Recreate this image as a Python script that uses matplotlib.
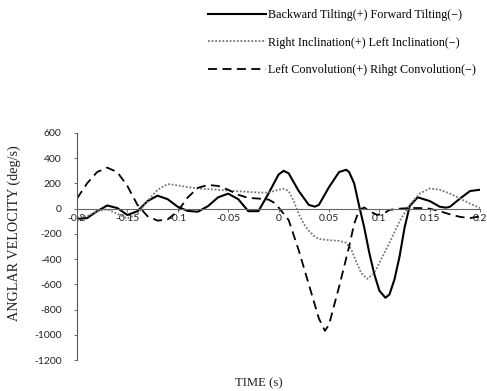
import matplotlib
matplotlib.use("Agg")
import matplotlib.pyplot as plt

# values (time in s, angular velocity in deg/s)
t_back = [-0.20, -0.19, -0.18, -0.17, -0.16, -0.15, -0.14, -0.13, -0.12, -0.11,
          -0.10, -0.09, -0.08, -0.07, -0.06, -0.05, -0.04, -0.03, -0.02, -0.01,
          0.00, 0.005, 0.01, 0.02, 0.03, 0.036, 0.04, 0.05, 0.06, 0.067,
          0.07, 0.075, 0.08, 0.085, 0.09, 0.095, 0.10, 0.106, 0.11, 0.115,
          0.12, 0.125, 0.13, 0.138, 0.15, 0.16, 0.166, 0.17, 0.18, 0.19, 0.20]
v_back = [-80, -75, -20, 25, 5, -50, -20, 60, 103, 75,
          15, -18, -24, 20, 90, 119, 75, -20, -20, 120,
          270, 300, 280, 140, 30, 16, 30, 170, 290, 308,
          290, 200, 20, -150, -350, -520, -650, -706, -680, -560,
          -380, -150, 20, 90, 60, 15, 8, 15, 80, 140, 150]

t_right = [-0.20, -0.19, -0.18, -0.17, -0.16, -0.15, -0.14, -0.13, -0.12, -0.11,
           -0.10, -0.09, -0.08, -0.07, -0.06, -0.05, -0.04, -0.03, -0.02, -0.01,
           0.00, 0.005, 0.01, 0.015, 0.02, 0.025, 0.03, 0.035, 0.04, 0.05,
           0.06, 0.067, 0.072, 0.077, 0.082, 0.088, 0.095, 0.10, 0.11, 0.12,
           0.13, 0.14, 0.15, 0.16, 0.17, 0.18, 0.19, 0.20]
v_right = [-70, -60, -20, -5, -40, -78, -40, 60, 150, 195,
           185, 170, 160, 155, 150, 143, 138, 133, 128, 127,
           150, 158, 140, 60, -40, -120, -175, -215, -240, -250,
           -255, -270, -320, -420, -510, -556, -510, -430, -270, -100,
           30, 120, 160, 150, 120, 80, 40, 5]

t_left = [-0.20, -0.19, -0.18, -0.17, -0.16, -0.15, -0.14, -0.13, -0.12, -0.11,
          -0.10, -0.09, -0.08, -0.07, -0.06, -0.05, -0.04, -0.03, -0.02, -0.01,
          -0.005, 0.00, 0.005, 0.01, 0.02, 0.03, 0.04, 0.046, 0.05, 0.06,
          0.07, 0.075, 0.08, 0.085, 0.09, 0.098, 0.105, 0.11, 0.12, 0.13,
          0.14, 0.15, 0.16, 0.17, 0.18, 0.19, 0.20]
v_left = [80, 200, 290, 325, 290, 180, 30, -60, -95, -85,
          -20, 90, 165, 188, 180, 150, 110, 85, 80, 72,
          50, 10, -40, -90, -330, -600, -870, -968, -920, -620,
          -300, -120, -10, 10, -20, -50, -35, -10, 0, 5,
          5, 0, -20, -45, -65, -75, -60]

labels = ["Backward Tilting(+) Forward Tilting(\u2212)",
          "Right Inclination(+) Left Inclination(\u2212)",
          "Left Convolution(+) Rihgt Convolution(\u2212)"]
x_ticks = [-0.2, -0.15, -0.1, -0.05, 0, 0.05, 0.1, 0.15, 0.2]
x_ticklabels = ["-0.2", "-0.15", "-0.1", "-0.05", "0", "0.05", "0.1", "0.15", "0.2"]
y_ticks = [600, 400, 200, 0, -200, -400, -600, -800, -1000, -1200]

fig = plt.figure(figsize=(4.87, 3.91), dpi=100)
ax = fig.add_axes([0.158, 0.079, 0.828, 0.581])

l1, = ax.plot(t_back, v_back, color="black", lw=1.5, ls="-")
l2, = ax.plot(t_right, v_right, color="#777777", lw=1.3, ls=(0, (1, 1)))
l3, = ax.plot(t_left, v_left, color="black", lw=1.3, ls=(0, (5, 3)))

ax.set_xlim(-0.2, 0.2)
ax.set_ylim(-1200, 600)
ax.spines["top"].set_visible(False)
ax.spines["right"].set_visible(False)
ax.spines["bottom"].set_position(("data", 0))
ax.spines["bottom"].set_color("#666666")
ax.spines["left"].set_color("#555555")
ax.spines["left"].set_linewidth(0.8)

ax.set_xticks(x_ticks)
ax.set_xticklabels(x_ticklabels)
ax.set_yticks(y_ticks)
ax.set_yticklabels([str(v) for v in y_ticks])
ax.tick_params(axis="both", length=2, width=0.6, colors="#555555",
               labelcolor="#222222", labelsize=7.5)
ax.tick_params(axis="y", pad=9)
ax.tick_params(axis="x", pad=2)
for lab in ax.get_xticklabels() + ax.get_yticklabels():
    lab.set_family("Lato")

fig.text(0.029, 0.404, "ANGLAR VELOCITY (deg/s)", rotation=90, ha="center",
         va="center", family="Liberation Serif", fontsize=10.2, color="#222222")
fig.text(0.532, 0.02, "TIME (s)", ha="center", va="center",
         family="Liberation Serif", fontsize=9.2, color="#222222")

fig.legend([l1, l2, l3], labels, loc="upper left", bbox_to_anchor=(0.405, 1.005),
           frameon=False, handlelength=4.8, handletextpad=0.15,
           labelspacing=1.3, prop={"family": "Liberation Serif", "size": 8.7})

fig.savefig("out.png", dpi=100)
